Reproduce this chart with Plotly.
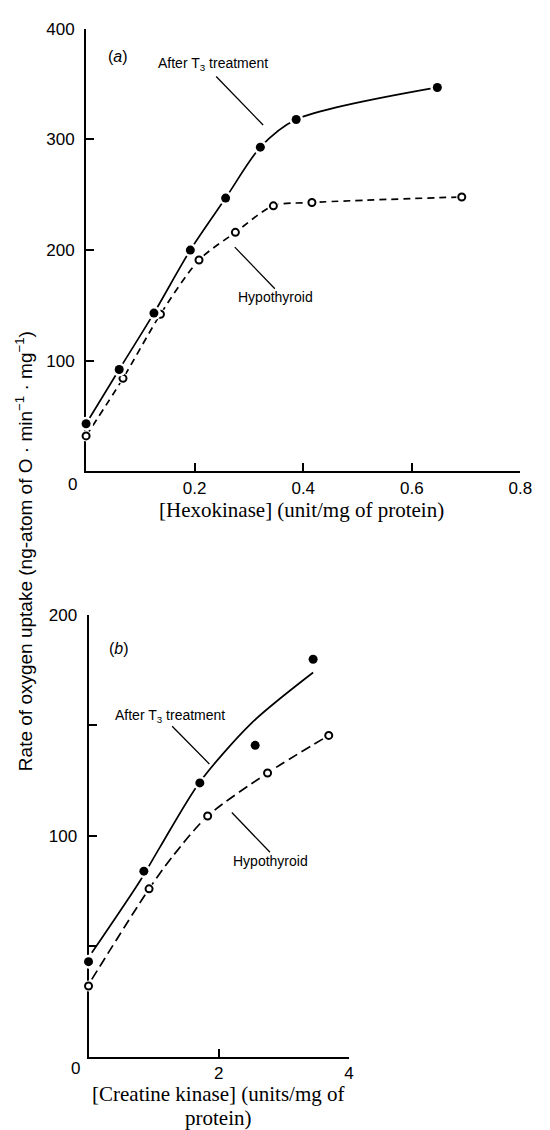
import plotly.graph_objects as go

# ---------------- data ----------------
# Panel (a): hexokinase
hex_t3_x = [0.0, 0.061, 0.125, 0.192, 0.257, 0.321, 0.387, 0.647]
hex_t3_y = [43, 92, 143, 200, 247, 293, 318, 347]
hex_hypo_x = [0.0, 0.068, 0.137, 0.208, 0.275, 0.345, 0.416, 0.692]
hex_hypo_y = [32, 84, 142, 191, 216, 240, 243, 248]

# Panel (b): creatine kinase (points)
ck_t3_x = [0.0, 0.85, 1.71, 2.56, 3.45]
ck_t3_y = [43, 84, 124, 141, 180]
ck_hypo_x = [0.0, 0.93, 1.83, 2.75, 3.69]
ck_hypo_y = [32, 76, 109, 128.5, 145.5]
# Panel (b): hand-drawn fitted curves
ck_t3_curve_x = [0.05, 0.8, 1.1, 1.7, 2.5, 3.45]
ck_t3_curve_y = [47, 80, 95, 124, 151, 174]
ck_hypo_curve_x = [0.05, 0.93, 1.3, 1.83, 2.75, 3.69]
ck_hypo_curve_y = [35, 76, 91, 109, 128.5, 145.5]

xa_ticks = [0, 0.2, 0.4, 0.6, 0.8]
xa_text = ["", "0.2", "0.4", "0.6", "0.8"]
ya_ticks = [100, 200, 300, 400]
ya_text = ["100", "200", "300", "400"]
xb_ticks = [0, 2, 4]
xb_text = ["", "2", "4"]
yb_ticks = [50, 100, 150, 200]
yb_text = ["", "100", "", "200"]

# ---------------- layout helpers ----------------
W, H = 550, 1130
def px(x):
    return x / W
def py(y):
    return 1 - y / H

SANS = "Liberation Sans, Arial, sans-serif"
SERIF = "Liberation Serif, Times New Roman, serif"

fig = go.Figure()

def add_series(x, y, xa, ya, dash, filled, curve_x=None, curve_y=None):
    cx = x if curve_x is None else curve_x
    cy = y if curve_y is None else curve_y
    fig.add_trace(go.Scatter(x=cx, y=cy, mode="lines", xaxis=xa, yaxis=ya,
                             line=dict(color="black", width=1.7, dash=dash, shape="spline", smoothing=0.8),
                             showlegend=False, hoverinfo="skip", cliponaxis=False))
    # white halo to break the line around markers
    fig.add_trace(go.Scatter(x=x, y=y, mode="markers", xaxis=xa, yaxis=ya,
                             marker=dict(color="white", size=14 if filled else 11),
                             showlegend=False, hoverinfo="skip", cliponaxis=False))
    if filled:
        mk = dict(color="black", size=9, line=dict(width=0))
    else:
        mk = dict(color="white", size=7, line=dict(color="black", width=2))
    fig.add_trace(go.Scatter(x=x, y=y, mode="markers", xaxis=xa, yaxis=ya,
                             marker=mk, showlegend=False, cliponaxis=False))

add_series(hex_hypo_x, hex_hypo_y, "x", "y", "7px,5px", False)
add_series(hex_t3_x, hex_t3_y, "x", "y", "solid", True)
add_series(ck_hypo_x, ck_hypo_y, "x2", "y2", "10px,5px", False, ck_hypo_curve_x, ck_hypo_curve_y)
add_series(ck_t3_x, ck_t3_y, "x2", "y2", "solid", True, ck_t3_curve_x, ck_t3_curve_y)

axis_common = dict(showline=True, linecolor="black", linewidth=2, showgrid=False, zeroline=False,
                   ticks="inside", ticklen=8, tickwidth=2, tickcolor="black", layer="below traces",
                   tickfont=dict(family=SANS, size=17, color="black"), fixedrange=True)

fig.update_layout(
    width=W, height=H, margin=dict(l=0, r=0, t=0, b=0),
    paper_bgcolor="white", plot_bgcolor="white", showlegend=False,
    xaxis=dict(domain=[px(88), px(532)], range=[0, 0.8], anchor="y",
               tickvals=xa_ticks, ticktext=xa_text, **axis_common),
    yaxis=dict(domain=[py(466), py(20)], range=[0, 400], anchor="x",
               tickvals=ya_ticks, ticktext=ya_text, ticklabelstandoff=6, **axis_common),
    xaxis2=dict(domain=[px(90.5), px(356.7)], range=[0, 4], anchor="y2",
                tickvals=xb_ticks, ticktext=xb_text, **axis_common),
    yaxis2=dict(domain=[py(1056), py(611)], range=[0, 200], anchor="x2",
                tickvals=yb_ticks, ticktext=yb_text, ticklabelstandoff=6, **axis_common),
)

ann = []
def text(x, y, s, size=12, family=SANS, angle=0, xanchor="center"):
    ann.append(dict(x=px(x), y=py(y), xref="paper", yref="paper", text=s, showarrow=False,
                    font=dict(family=family, size=size, color="black"), textangle=angle,
                    xanchor=xanchor, yanchor="middle"))

# origin labels
text(74, 479, "0", size=17)
text(77, 1068, "0", size=17)
# panel labels
text(121, 48, "(<i>a</i>)", size=16)
text(122, 645, "(<i>b</i>)", size=16)
# curve labels
text(218, 55, "After T<sub>3</sub> treatment", size=14)
text(282, 290, "Hypothyroid", size=14)
text(174, 713, "After T<sub>3</sub> treatment", size=14)
text(277, 859, "Hypothyroid", size=14)
# axis titles
text(308, 505, "[Hexokinase] (unit/mg of protein)", size=21, family=SERIF)
text(223, 1094, "[Creatine kinase] (units/mg of", size=21, family=SERIF)
text(223, 1118, "protein)", size=21, family=SERIF)
text(24, 546, "Rate of oxygen uptake (ng-atom of O · min<sup>−1</sup> · mg<sup>−1</sup>)",
     size=19, family=SANS, angle=-90)
fig.update_layout(annotations=ann)

shapes = []
def seg(x0, y0, x1, y1):
    shapes.append(dict(type="line", xref="paper", yref="paper", x0=px(x0), y0=py(y0),
                       x1=px(x1), y1=py(y1), line=dict(color="black", width=1.3)))
seg(221, 68, 269, 117)
seg(240, 240, 281, 282)
seg(176, 723, 214, 761)
seg(237, 810, 276, 850)
fig.update_layout(shapes=shapes)

fig.write_html("out.html", config={"displayModeBar": False},
               post_script="document.body.style.margin='0';document.body.style.padding='0';")
